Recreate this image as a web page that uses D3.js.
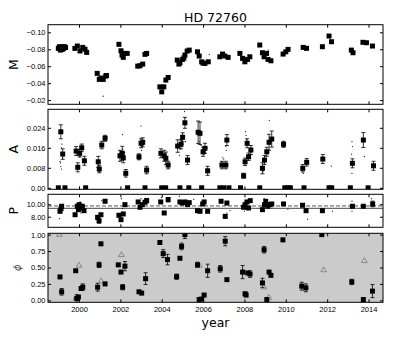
<!DOCTYPE html>
<html>
<head>
<meta charset="utf-8">
<script src="https://cdn.jsdelivr.net/npm/d3@7"></script>
<style>
  body { margin: 0; background: #fff; }
  svg { display: block; font-family: "DejaVu Sans", sans-serif; }
  .axis line { stroke: #000; }
  .axis text { font-size: 7.5px; fill: #000; }
</style>
</head>
<body>
<svg width="403" height="337"></svg>
<script>
(function(d3) {
  'use strict';

  // ---- data ----
  const yearTicks = [2000, 2002, 2004, 2006, 2008, 2010, 2012, 2014];

  const mTicks = [-0.10, -0.08, -0.06, -0.04, -0.02];
  const mTickLabels = ['\u22120.10', '\u22120.08', '\u22120.06', '\u22120.04', '\u22120.02'];
  const mYear = [1999.0,1999.05,1999.1,1999.15,1999.2,1999.25,1999.3,1999.35,1999.1,1999.2,
    1999.8,1999.92,2000.05,2000.18,2000.29,2000.37,
    2000.88,2000.98,2001.06,2001.17,2001.29,2001.33,
    2001.93,2002.03,2002.08,2002.17,2002.33,2002.14,
    2002.84,2002.95,2003.08,2003.19,2003.27,
    2003.91,2004.0,2004.1,2004.2,2004.31,
    2004.75,2004.83,2004.88,2005.01,2005.07,2005.12,2005.23,2005.33,
    2005.73,2005.81,2005.93,2005.99,2006.09,2006.25,
    2006.81,2006.94,2007.05,2007.21,
    2007.78,2007.91,2008.02,2008.15,2008.26,
    2008.74,2008.87,2008.95,2009.07,2009.14,2009.28,
    2009.87,2010.0,2010.11,
    2010.84,2011.0,
    2011.77,2012.09,2012.21,
    2013.17,2013.25,
    2013.73,2013.9,2014.19];
  const mVal = [-0.081,-0.083,-0.082,-0.080,-0.083,-0.081,-0.083,-0.082,-0.079,-0.080,
    -0.081,-0.0838,-0.078,-0.0822,-0.080,-0.0763,
    -0.0515,-0.0444,-0.046,-0.0444,-0.0483,-0.049,
    -0.0858,-0.0782,-0.0731,-0.0751,-0.0751,-0.0704,
    -0.0601,-0.0605,-0.0625,-0.074,-0.0751,
    -0.0356,-0.0297,-0.0356,-0.0436,-0.0467,
    -0.0672,-0.0625,-0.064,-0.068,-0.0696,-0.0731,-0.0779,-0.079,
    -0.077,-0.072,-0.0652,-0.0637,-0.0633,-0.0652,
    -0.0711,-0.0743,-0.072,-0.0704,
    -0.0751,-0.0692,-0.0652,-0.068,-0.0711,
    -0.085,-0.0759,-0.0711,-0.0751,-0.068,-0.0664,
    -0.0743,-0.077,-0.0799,
    -0.0822,-0.0811,
    -0.083,-0.0956,-0.0889,
    -0.079,-0.0759,
    -0.0882,-0.0877,-0.0838];
  const mDotYear = [2001.17, 2006.3, 2009.14];
  const mDotVal = [-0.0246, -0.074, -0.079];

  const aTicks = [0, 0.008, 0.016, 0.024];
  const aTickLabels = ['0.00', '0.008', '0.016', '0.024'];
  const aYear = [1999.12,1999.21,1999.86,1999.94,2000.03,2000.13,2000.26,
    2000.93,2000.98,2001.1,2001.26,
    2001.98,2002.09,2002.14,2002.26,
    2002.9,2003.0,2003.08,2003.27,
    2003.96,2004.12,2004.2,2004.31,
    2004.77,2004.93,2005.01,2005.12,2005.25,
    2005.76,2005.85,2006.0,2006.09,2006.22,
    2006.91,2007.1,2007.15,
    2007.96,2008.03,2008.13,2008.2,2008.31,
    2008.87,2008.97,2009.08,2009.19,2009.32,
    2009.89,
    2010.82,2011.01,
    2011.79,
    2013.22,2013.75,2014.24];
  const aVal = [0.0224,0.0135,0.0147,0.0082,0.0138,0.016,0.0108,
    0.0104,0.0075,0.0171,0.0198,
    0.0128,0.0138,0.012,0.0058,
    0.0124,0.0178,0.0182,0.0071,
    0.0138,0.0128,0.0118,0.0091,
    0.0167,0.0174,0.0202,0.026,0.0111,
    0.0222,0.0218,0.0144,0.0158,0.0068,
    0.0091,0.0091,0.0191,
    0.0048,0.0104,0.0178,0.0124,0.0151,
    0.0078,0.0111,0.0144,0.0182,0.0195,
    0.0174,
    0.0078,0.0102,
    0.0115,
    0.0098,0.0191,0.0088];
  const aErr = [0.0028,0.0021,0.0018,0.0018,0.0015,0.0015,0.0018,
    0.0022,0.0015,0.0015,0.0012,
    0.0022,0.0028,0.002,0.0015,
    0.0012,0.0018,0.0018,0.0015,
    0.0018,0.0022,0.0025,0.0015,
    0.0025,0.0018,0.0018,0.0022,0.0018,
    0.0045,0.0045,0.0018,0.002,0.0018,
    0.0015,0.0015,0.0022,
    0.001,0.0015,0.0018,0.0015,0.0018,
    0.0022,0.0018,0.0018,0.0032,0.0032,
    0.0012,
    0.0015,0.0015,
    0.0018,
    0.0018,0.003,0.0018];
  const aZeroYear = [1999.0,1999.32,2000.32,2002.35,2003.19,2004.0,2004.19,2004.88,2005.31,2005.93,
    2006.81,2007.0,2007.25,2007.81,2008.74,2009.95,2010.1,2010.22,2010.88,2012.09,2012.22,2013.12,2013.98];
  const aDotYear = [1999.1,1999.12,1999.15,1999.2,1999.18,1999.15,1999.08,
    2000.0,2000.05,2000.98,2002.1,2002.12,
    2003.0,2003.05,2003.02,2004.0,
    2004.85,2004.9,2004.95,2005.0,2005.05,2005.12,2005.1,2005.15,
    2005.8,2005.9,2006.0,2006.05,2006.2,
    2006.9,2006.95,2007.0,2007.1,2007.12,
    2008.05,2008.08,2008.1,2007.95,
    2008.9,2008.95,2009.2,2009.25,2009.9,
    2010.85,2010.9,2012.2,
    2013.2,2013.22,2013.18,2013.2,2013.8];
  const aDotVal = [0.010,0.0085,0.0075,0.012,0.0175,0.016,0.0105,
    0.009,0.0125,0.0065,0.0213,0.0155,
    0.0247,0.0165,0.015,0.0145,
    0.013,0.0155,0.019,0.021,0.0175,0.028,0.0305,0.0185,
    0.0185,0.017,0.015,0.0135,0.016,
    0.0105,0.012,0.0115,0.0165,0.015,
    0.0225,0.021,0.0195,0.0058,
    0.0065,0.0085,0.027,0.018,0.0165,
    0.0058,0.007,0.0087,
    0.0185,0.0165,0.0135,0.0058,0.0125];

  const pTicks = [8, 10];
  const pTickLabels = ['8.00', '10.00'];
  const pMean = 9.35;
  const pRef = 9.73;
  const pYear = [1999.08,1999.13,1999.16,
    1999.81,1999.92,1999.97,2000.01,2000.08,2000.16,2000.24,
    2000.9,2000.97,2001.06,2001.26,
    2001.93,2002.03,2002.14,2002.22,
    2002.86,2002.95,2003.06,2003.19,2003.27,
    2003.95,2004.12,2004.31,
    2004.88,2004.99,2005.12,2005.25,2005.33,
    2005.73,2005.85,2005.98,2006.05,2006.22,
    2006.87,2007.07,2007.15,
    2007.96,2008.03,2008.12,2008.2,2008.28,
    2008.87,2008.97,2009.03,2009.13,2009.24,2009.32,
    2009.89,
    2010.81,2010.98,
    2011.77,
    2013.22,2013.75,2014.2];
  const pVal = [8.87,9.29,9.68,
    8.32,9.68,9.13,9.94,9.4,9.68,8.97,
    7.9,7.35,8.32,10.48,
    8.23,7.52,8.44,9.94,
    10.37,9.52,9.94,10.32,10.58,
    10.37,8.6,10.74,
    10.37,10.2,10.37,9.94,10.26,
    8.97,8.87,10.05,10.37,8.87,
    10.48,8.06,10.2,
    9.52,9.94,10.37,9.4,10.58,
    9.13,9.94,10.48,9.68,9.94,10.05,
    10.05,
    9.84,8.97,
    8.97,
    9.68,9.68,10.05];
  const pErr = [0,0,0,
    0,0,0,0,0,0,0,
    0.3,0.4,0,0,
    0,0,0,0,
    0,0,0,0,0.35,
    0,0,0.35,
    0,0,0,0,0,
    0,0,0,0,0,
    0,0.3,0,
    0,0,0,0,0,
    0,0,0,0,0,0,
    0,
    0,0,
    0,
    0.25,0,0.45];
  const pDotYear = [1999.05,2000.05,2000.1,2001.1,2002.05,2004.0,2004.9,2004.85,2005.55,2006.0,
    2007.15,2007.3,2008.0,2008.05,2008.95,2009.1,2010.1,2011.05,2012.25,2013.2,2013.2,2014.15,
    1999.95,2002.1,2003.0];
  const pDotVal = [7.7,10.4,8.6,10.6,10.9,11.1,10.5,11.3,10.8,10.45,
    8.6,9.0,8.9,9.2,10.9,10.3,9.2,7.6,8.9,8.9,10.5,10.9,
    8.9,9.3,10.9];

  const phiTicks = [0, 0.25, 0.5, 0.75, 1];
  const phiTickLabels = ['0.00', '0.25', '0.50', '0.75', '1.00'];
  const phiYear = [1999.08,1999.16,1999.84,1999.89,1999.97,2000.1,2000.18,
    2000.9,2000.97,2001.06,2001.26,
    2001.9,2002.03,2002.11,2002.22,
    2002.9,2003.03,2003.22,
    2003.91,2004.07,2004.28,
    2004.72,2004.88,2004.96,2005.12,
    2005.73,2005.81,2005.93,2006.05,2006.22,
    2006.83,2007.07,2007.15,
    2007.91,2008.03,2008.08,2008.16,2008.27,
    2008.87,2008.95,2009.08,2009.19,2009.28,
    2009.86,
    2010.77,2010.97,
    2011.74,
    2013.19,2013.75,2014.19];
  const phiVal = [0.356,0.13,0.45,0.027,0.05,0.18,0.2,
    0.2,0.54,0.86,0.25,
    0.54,0.43,0.2,0.52,
    0.13,0.11,0.33,
    0.88,0.71,0.62,
    0.36,0.64,0.82,1.0,
    0.54,0.012,0.02,0.08,0.45,
    0.48,0.9,0.315,
    0.43,0.1,0.08,0.417,0.4,
    0.265,0.77,0.012,0.43,0.38,
    0.92,
    0.215,0.19,
    1.0,
    0.28,0.012,0.14];
  const phiErr = [0,0.05,0,0.06,0,0,0.05,
    0.06,0.04,0,0,
    0,0,0.04,0.07,
    0,0,0.09,
    0,0.06,0.08,
    0.04,0,0.05,0.06,
    0.04,0,0,0,0.1,
    0.05,0.07,0,
    0.1,0,0,0,0.05,
    0.07,0.05,0,0,0,
    0,
    0.06,0.06,
    0,
    0.04,0,0.1];
  const triYear = [1999.05,1999.85,2000.0,2001.07,2002.05,2005.82,2008.94,2009.18,2011.83,2013.8];
  const triVal = [1.0,0.04,0.53,0.29,0.69,0.53,0.2,0.04,0.46,0.6];

  // ---- layout ----
  const svg = d3.select('svg');
  const x = d3.scaleLinear().domain([1998.5, 2014.7]).range([48, 383]);
  const zip = (xs, ys, es) => xs.map((d, i) => ({ x: d, y: ys[i], e: es ? es[i] : 0 }));

  const panels = [
    { id: 'm', name: 'M', top: 24.7, bottom: 104.3, domain: [-0.015, -0.109],
      ticks: mTicks, labels: mTickLabels, labelX: 17.5 },
    { id: 'a', name: 'A', top: 109.3, bottom: 189.3, domain: [-0.0006, 0.0314],
      ticks: aTicks, labels: aTickLabels, labelX: 17.5 },
    { id: 'p', name: 'P', top: 194.3, bottom: 227.3, domain: [6.3, 11.6],
      ticks: pTicks, labels: pTickLabels, labelX: 17.5 },
    { id: 'phi', name: '\u03d5', top: 233.3, bottom: 302.3, domain: [-0.03, 1.02],
      ticks: phiTicks, labels: phiTickLabels, labelX: 21, bg: '#cbcbcb', last: true }
  ];

  const defs = svg.append('defs');

  panels.forEach(p => {
    p.y = d3.scaleLinear().domain(p.domain).range([p.bottom, p.top]);
    defs.append('clipPath').attr('id', 'clip-' + p.id)
      .append('rect')
      .attr('x', x.range()[0]).attr('y', p.top)
      .attr('width', x.range()[1] - x.range()[0])
      .attr('height', p.bottom - p.top);

    p.g = svg.append('g');
    p.g.append('rect')
      .attr('x', x.range()[0]).attr('y', p.top)
      .attr('width', x.range()[1] - x.range()[0])
      .attr('height', p.bottom - p.top)
      .attr('fill', p.bg || '#fff');
    p.marks = p.g.append('g').attr('clip-path', `url(#clip-${p.id})`);
  });

  const drawErr = (g, y, data) => {
    const eb = g.append('g').attr('stroke', '#000').attr('stroke-width', 0.8);
    data.filter(d => d.e > 0).forEach(d => {
      const cx = x(d.x), y0 = y(d.y - d.e), y1 = y(d.y + d.e);
      eb.append('line').attr('x1', cx).attr('x2', cx).attr('y1', y0).attr('y2', y1);
      eb.append('line').attr('x1', cx - 2).attr('x2', cx + 2).attr('y1', y0).attr('y2', y0);
      eb.append('line').attr('x1', cx - 2).attr('x2', cx + 2).attr('y1', y1).attr('y2', y1);
    });
  };

  const drawSquares = (g, y, data, size) => {
    g.append('g').selectAll('rect').data(data)
      .enter().append('rect')
      .attr('x', d => x(d.x) - size / 2)
      .attr('y', d => y(d.y) - size / 2)
      .attr('width', size).attr('height', size)
      .attr('fill', '#000');
  };

  const drawDots = (g, y, data) => {
    g.append('g').selectAll('circle').data(data)
      .enter().append('circle')
      .attr('cx', d => x(d.x)).attr('cy', d => y(d.y))
      .attr('r', 0.6).attr('fill', '#000');
  };

  // M
  const pm = panels[0];
  drawDots(pm.marks, pm.y, zip(mDotYear, mDotVal));
  drawSquares(pm.marks, pm.y, zip(mYear, mVal), 5);

  // A
  const pa = panels[1];
  drawDots(pa.marks, pa.y, zip(aDotYear, aDotVal));
  drawErr(pa.marks, pa.y, zip(aYear, aVal, aErr));
  drawSquares(pa.marks, pa.y, zip(aYear, aVal), 5);
  drawSquares(pa.marks, pa.y, aZeroYear.map(d => ({ x: d, y: 0 })), 5);

  // P
  const pp = panels[2];
  pp.marks.append('line')
    .attr('x1', x.range()[0]).attr('x2', x.range()[1])
    .attr('y1', pp.y(pMean)).attr('y2', pp.y(pMean))
    .attr('stroke', '#444').attr('stroke-width', 1);
  pp.marks.append('line')
    .attr('x1', x.range()[0]).attr('x2', x.range()[1])
    .attr('y1', pp.y(pRef)).attr('y2', pp.y(pRef))
    .attr('stroke', '#555').attr('stroke-width', 1)
    .attr('stroke-dasharray', '4,2');
  drawDots(pp.marks, pp.y, zip(pDotYear, pDotVal));
  drawErr(pp.marks, pp.y, zip(pYear, pVal, pErr));
  drawSquares(pp.marks, pp.y, zip(pYear, pVal), 5);

  // phi
  const pf = panels[3];
  drawErr(pf.marks, pf.y, zip(phiYear, phiVal, phiErr));
  pf.marks.append('g').selectAll('path').data(zip(triYear, triVal))
    .enter().append('path')
    .attr('transform', d => `translate(${x(d.x)},${pf.y(d.y)})`)
    .attr('d', d3.symbol(d3.symbolTriangle, 14)())
    .attr('fill', 'none')
    .attr('stroke', '#777')
    .attr('stroke-width', 0.8);
  drawSquares(pf.marks, pf.y, zip(phiYear, phiVal), 5);

  // axes + frames
  panels.forEach(p => {
    const left = p.g.append('g').attr('class', 'axis')
      .attr('transform', `translate(${x.range()[0]},0)`)
      .call(d3.axisLeft(p.y).tickValues(p.ticks)
        .tickFormat((d, i) => p.labels[i])
        .tickSizeInner(-3).tickSizeOuter(0).tickPadding(2.5));
    left.select('.domain').remove();

    const right = p.g.append('g').attr('class', 'axis')
      .attr('transform', `translate(${x.range()[1]},0)`)
      .call(d3.axisRight(p.y).tickValues(p.ticks).tickFormat('')
        .tickSizeInner(-3).tickSizeOuter(0));
    right.select('.domain').remove();

    const top = p.g.append('g').attr('class', 'axis')
      .attr('transform', `translate(0,${p.top})`)
      .call(d3.axisTop(x).tickValues(yearTicks).tickFormat('')
        .tickSizeInner(-3).tickSizeOuter(0));
    top.select('.domain').remove();

    const bottom = p.g.append('g').attr('class', 'axis')
      .attr('transform', `translate(0,${p.bottom})`)
      .call(d3.axisBottom(x).tickValues(yearTicks)
        .tickFormat(p.last ? d3.format('d') : '')
        .tickSizeInner(-3).tickSizeOuter(0).tickPadding(4));
    bottom.select('.domain').remove();

    p.g.append('rect')
      .attr('x', x.range()[0]).attr('y', p.top)
      .attr('width', x.range()[1] - x.range()[0])
      .attr('height', p.bottom - p.top)
      .attr('fill', 'none').attr('stroke', '#000').attr('stroke-width', 1);

    p.g.append('text')
      .attr('transform', `translate(${p.labelX},${(p.top + p.bottom) / 2}) rotate(-90)`)
      .attr('text-anchor', 'middle')
      .attr('font-size', p.last ? '10px' : '12.5px')
      .attr('font-style', p.last ? 'italic' : null)
      .attr('fill', p.last ? '#555' : '#000')
      .text(p.name);
  });

  svg.append('text')
    .attr('x', (x.range()[0] + x.range()[1]) / 2).attr('y', 21.5)
    .attr('text-anchor', 'middle').attr('font-size', '12.5px')
    .text('HD 72760');

  svg.append('text')
    .attr('x', (x.range()[0] + x.range()[1]) / 2).attr('y', 327)
    .attr('text-anchor', 'middle').attr('font-size', '12.5px')
    .text('year');

}(d3));
</script>
</body>
</html>
